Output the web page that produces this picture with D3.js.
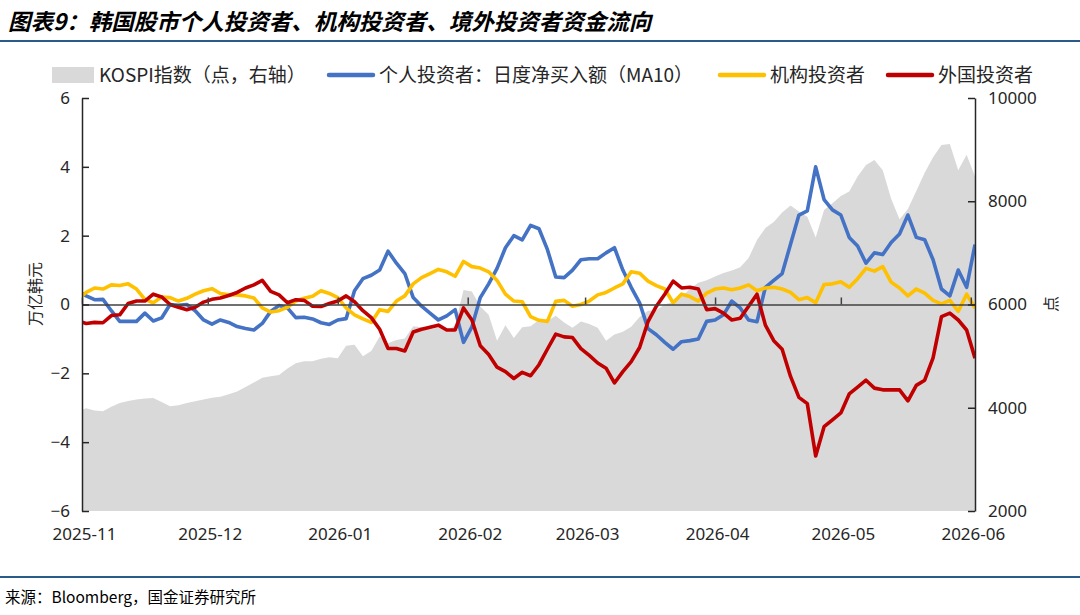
<!DOCTYPE html>
<html>
<head>
<meta charset="utf-8">
<script src="https://cdn.jsdelivr.net/npm/d3@7"></script>
<style>
  body { margin: 0; background: #fff; }
  svg { display: block; font-family: "Noto Sans", "Noto Sans CJK SC", sans-serif; }
</style>
</head>
<body>
<div id="chart"></div>
<script>
// every second calendar day, 2025-10-31 .. 2026-06-02
const dates = d3.utcDay.range(new Date(Date.UTC(2025, 9, 31)), new Date(Date.UTC(2026, 5, 3)), 2);

// KOSPI index (points, right axis)
const kospi = [
  3930, 3990, 3945, 3930, 4020, 4090, 4130, 4160, 4180, 4190,
  4110, 4030, 4050, 4090, 4125, 4160, 4195, 4215, 4260, 4315,
  4400, 4490, 4580, 4610, 4635, 4760, 4860, 4900, 4900, 4950,
  4980, 4960, 5200, 5220, 5000, 5100, 5380, 5250, 5310, 5340,
  5580, 5560, 5520, 5560, 5480, 5600, 6280, 6250, 5960, 5800,
  5300, 5600, 5350, 5560, 5580, 5700, 5680, 5780, 5650, 5550,
  5670, 5620, 5550, 5300, 5420, 5470, 5570, 5760, 5880, 5890,
  6000, 6050, 6150, 6300, 6420, 6470, 6540, 6610, 6660, 6720,
  6900, 7250, 7480, 7600, 7780, 7920, 7800, 7700, 7300, 7830,
  7960, 8100, 8190, 8480, 8700, 8800, 8600, 8050, 7650, 7850,
  8200, 8550, 8850, 9090, 9110, 8600, 8900, 8480
];

// net buying, MA10 (trillion won, left axis)
const retail = [
  0.4, 0.25, 0.14, 0.15, -0.18, -0.49, -0.49, -0.49, -0.25, -0.48,
  -0.39, 0.0, -0.02, 0.0, -0.18, -0.45, -0.57, -0.45, -0.52, -0.64,
  -0.7, -0.74, -0.55, -0.2, -0.03, -0.1, -0.38, -0.37, -0.42, -0.53,
  -0.58, -0.45, -0.41, 0.4, 0.75, 0.85, 1.0, 1.55, 1.2, 0.9,
  0.2, -0.05, -0.25, -0.45, -0.33, -0.15, -1.1, -0.65, 0.2, 0.6,
  1.05, 1.65, 2.0, 1.88, 2.3, 2.2, 1.6, 0.8, 0.78, 1.0,
  1.3, 1.33, 1.33, 1.5, 1.65, 1.0, 0.5, 0.05, -0.7, -0.88,
  -1.1, -1.3, -1.08, -1.05, -1.0, -0.49, -0.45, -0.3, 0.1, -0.1,
  -0.45, -0.5, 0.5, 0.7, 0.9, 1.75, 2.6, 2.72, 4.0, 3.05,
  2.75, 2.6, 1.95, 1.7, 1.2, 1.5, 1.45, 1.8, 2.05, 2.6,
  1.95, 1.88, 1.3, 0.45, 0.25, 1.0, 0.5, 1.74
];
const institution = [
  0.15, 0.35, 0.48, 0.45, 0.57, 0.55, 0.6, 0.45, 0.15, 0.05,
  0.22, 0.2, 0.1, 0.18, 0.3, 0.4, 0.46, 0.32, 0.28, 0.28,
  0.25, 0.19, -0.1, -0.22, -0.18, -0.08, 0.1, 0.18, 0.24, 0.4,
  0.32, 0.2, -0.1, -0.3, -0.42, -0.52, -0.15, -0.2, 0.1, 0.25,
  0.6, 0.78, 0.9, 1.02, 0.95, 0.82, 1.25, 1.1, 1.06, 0.95,
  0.7, 0.3, 0.1, 0.08, -0.35, -0.46, -0.49, 0.09, 0.12, -0.05,
  0.0, 0.1, 0.28, 0.35, 0.48, 0.6, 0.95, 0.91, 0.68, 0.55,
  0.45, 0.05, 0.3, 0.23, 0.1, 0.33, 0.45, 0.48, 0.43, 0.48,
  0.57, 0.4, 0.48, 0.5, 0.45, 0.35, 0.14, 0.2, 0.05, 0.58,
  0.6, 0.66, 0.5, 0.75, 1.05, 0.97, 1.1, 0.65, 0.48, 0.25,
  0.45, 0.33, 0.12, 0.02, 0.12, -0.2, 0.3, -0.1
];
const foreign = [
  -0.48, -0.55, -0.52, -0.53, -0.32, -0.3, 0.03, 0.1, 0.1, 0.3,
  0.22, 0.0, -0.08, -0.15, -0.08, 0.07, 0.15, 0.19, 0.26, 0.35,
  0.48, 0.57, 0.7, 0.38, 0.28, 0.05, 0.14, 0.12, -0.05, -0.06,
  0.03, 0.1, 0.25, 0.08, -0.18, -0.38, -0.72, -1.28, -1.28, -1.35,
  -0.8, -0.72, -0.66, -0.6, -0.74, -0.74, -0.1, -0.45, -1.2, -1.45,
  -1.82, -1.95, -2.15, -1.97, -2.07, -1.75, -1.3, -0.86, -0.94, -0.96,
  -1.28, -1.48, -1.7, -1.85, -2.28, -1.95, -1.66, -1.25, -0.5, -0.05,
  0.3, 0.68, 0.48, 0.5, 0.45, -0.15, -0.12, -0.25, -0.45, -0.4,
  -0.05, 0.3, -0.6, -1.05, -1.3, -2.09, -2.7, -2.88, -4.4, -3.55,
  -3.35, -3.15, -2.6, -2.4, -2.2, -2.43, -2.48, -2.48, -2.48, -2.8,
  -2.35, -2.2, -1.55, -0.35, -0.25, -0.45, -0.74, -1.56
];

const leftTicks = [-6, -4, -2, 0, 2, 4, 6];
const rightTicks = [2000, 4000, 6000, 8000, 10000];
const monthTicks = ["2025-11-01", "2025-12-01", "2026-01-01", "2026-02-01",
  "2026-03-01", "2026-04-01", "2026-05-01", "2026-06-01"].map(d3.utcParse("%Y-%m-%d"));

const seriesNames = ["KOSPI指数（点，右轴）", "个人投资者：日度净买入额（MA10）", "机构投资者", "外国投资者"];
const colors = ["#d9d9d9", "#4472c4", "#ffc000", "#c00000"];

const width = 1080, height = 615;
const margin = { top: 98, right: 105, bottom: 104, left: 82 };
const plotW = width - margin.left - margin.right;
const plotH = height - margin.top - margin.bottom;

const svg = d3.select("#chart").append("svg")
  .attr("width", width)
  .attr("height", height);

// title + rules
svg.append("text")
  .attr("x", 8).attr("y", 22).attr("dy", "0.35em")
  .attr("font-family", "'Noto Sans CJK SC', sans-serif")
  .attr("font-size", 22.5).attr("font-weight", "bold").attr("font-style", "italic")
  .text("图表9：韩国股市个人投资者、机构投资者、境外投资者资金流向");

svg.append("line").attr("x1", 0).attr("x2", width).attr("y1", 41).attr("y2", 41)
  .attr("stroke", "#2a5c8a").attr("stroke-width", 2);
svg.append("line").attr("x1", 0).attr("x2", width).attr("y1", 577).attr("y2", 577)
  .attr("stroke", "#2a5c8a").attr("stroke-width", 2);

svg.append("text")
  .attr("x", 5).attr("y", 598).attr("dy", "0.35em")
  .attr("font-family", "'Noto Sans CJK SC', sans-serif")
  .attr("font-size", 15.5)
  .text("来源：Bloomberg，国金证券研究所");

const g = svg.append("g").attr("transform", `translate(${margin.left},${margin.top})`);

const x = d3.scaleUtc()
  .domain([new Date(Date.UTC(2025, 10, 1)), new Date(Date.UTC(2026, 5, 2))])
  .range([0, plotW]);
const yL = d3.scaleLinear().domain([-6, 6]).range([plotH, 0]);
const yR = d3.scaleLinear().domain([2000, 10000]).range([plotH, 0]);

g.append("clipPath").attr("id", "plot-clip")
  .append("rect").attr("width", plotW).attr("height", plotH);

const plot = g.append("g").attr("clip-path", "url(#plot-clip)");

// KOSPI area on the right axis
const area = d3.area()
  .x((d, i) => x(dates[i]))
  .y0(yR(2000))
  .y1(d => yR(d));

plot.append("path")
  .datum(kospi)
  .attr("d", area)
  .attr("fill", colors[0]);

// zero line with month ticks
g.append("g")
  .attr("transform", `translate(0,${yL(0)})`)
  .call(d3.axisBottom(x).tickValues(monthTicks).tickSize(-7).tickSizeOuter(0).tickFormat(""))
  .call(a => a.selectAll("path,line").attr("stroke", "#404040").attr("stroke-width", 1.5));

// flow lines
const line = d3.line()
  .x((d, i) => x(dates[i]))
  .y(d => yL(d));

[retail, institution, foreign].forEach((s, i) => {
  plot.append("path")
    .datum(s)
    .attr("d", line)
    .attr("fill", "none")
    .attr("stroke", colors[i + 1])
    .attr("stroke-width", 3.6)
    .attr("stroke-linejoin", "round");
});

// axes
const styleAxis = a => {
  a.selectAll("path,line").attr("stroke", "#262626").attr("stroke-width", 1.5);
  a.selectAll("text").attr("font-size", 17).attr("fill", "#262626")
    .attr("font-family", "'Noto Sans', sans-serif");
};

g.append("g")
  .call(d3.axisLeft(yL).tickValues(leftTicks).tickSize(-7).tickSizeOuter(0).tickPadding(12))
  .call(styleAxis);

g.append("g")
  .attr("transform", `translate(${plotW},0)`)
  .call(d3.axisRight(yR).tickValues(rightTicks).tickSize(-7).tickSizeOuter(0).tickPadding(13)
    .tickFormat(d3.format("d")))
  .call(styleAxis);

g.append("g")
  .attr("transform", `translate(0,${plotH})`)
  .call(d3.axisBottom(x).tickValues(monthTicks).tickSize(0).tickPadding(17)
    .tickFormat(d3.utcFormat("%Y-%m")))
  .call(a => a.select(".domain").remove())
  .call(a => a.selectAll("text").attr("font-size", 17).attr("fill", "#262626").attr("dx", 2)
    .attr("font-family", "'Noto Sans', sans-serif"));

// axis titles
svg.append("text")
  .attr("transform", "translate(35,294) rotate(-90)")
  .attr("text-anchor", "middle").attr("dy", "0.35em")
  .attr("font-family", "'Noto Sans CJK SC', sans-serif")
  .attr("font-size", 16).attr("fill", "#262626")
  .text("万亿韩元");

svg.append("text")
  .attr("transform", "translate(1051,304) rotate(-90)")
  .attr("text-anchor", "middle").attr("dy", "0.35em")
  .attr("font-family", "'Noto Sans CJK SC', sans-serif")
  .attr("font-size", 16).attr("fill", "#262626")
  .text("点");

// legend
const legendX = [52, 329, 720, 888];
const legend = svg.append("g").attr("font-family", "'Noto Sans CJK SC', sans-serif");
seriesNames.forEach((name, i) => {
  const item = legend.append("g").attr("transform", `translate(${legendX[i]},75)`);
  if (i === 0) {
    item.append("rect").attr("x", 0).attr("y", -8).attr("width", 42).attr("height", 16)
      .attr("fill", colors[0]);
  } else {
    item.append("line").attr("x1", 0).attr("x2", 44).attr("y1", 0).attr("y2", 0)
      .attr("stroke", colors[i]).attr("stroke-width", 4.5).attr("stroke-linecap", "round");
  }
  item.append("text")
    .attr("x", i === 0 ? 47 : 50).attr("dy", "0.35em")
    .attr("font-size", 19).attr("fill", "#262626")
    .text(name);
});
</script>
</body>
</html>
